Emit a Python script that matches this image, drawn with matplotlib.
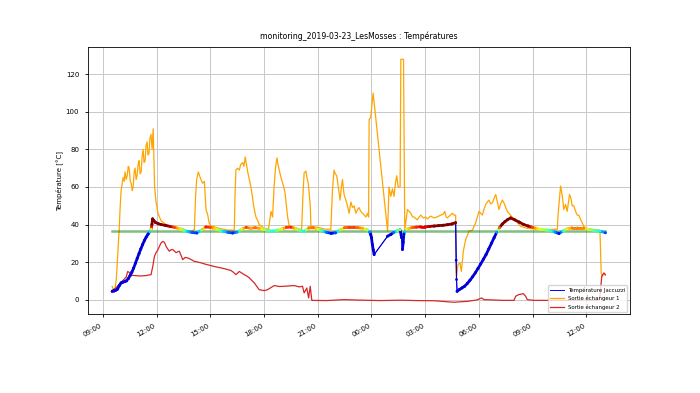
import numpy as np
import pandas as pd
import matplotlib
matplotlib.use("Agg")
import matplotlib.pyplot as plt
import matplotlib.dates as mdates
from matplotlib.collections import LineCollection
from matplotlib.colors import Normalize

# heures depuis le 2019-03-23 00:00
jac_h = [9.52, 9.62, 9.72, 9.82, 9.92, 10.02, 10.12, 10.22, 10.32, 10.42, 10.52, 10.62, 10.72, 10.82,
         10.92, 11.02, 11.12, 11.22, 11.32, 11.42, 11.52, 11.62, 11.70, 11.74, 11.78, 11.85, 11.95,
         12.10, 12.25, 12.50, 12.75, 13.00, 13.25, 13.50, 13.75, 14.00, 14.25, 14.50, 14.75, 15.00,
         15.25, 15.50, 15.75, 16.00, 16.25, 16.50, 16.75, 17.00, 17.25, 17.50, 17.75, 18.00, 18.25,
         18.50, 18.75, 19.00, 19.25, 19.50, 19.75, 20.00, 20.25, 20.50, 20.75, 21.00, 21.25, 21.50,
         21.75, 22.00, 22.25, 22.50, 22.75, 23.00, 23.25, 23.50, 23.75, 23.90, 23.96, 24.00, 24.05,
         24.10, 24.15, 24.90, 25.08, 25.25, 25.45, 25.60, 25.68, 25.73, 25.77, 25.81, 25.95, 26.25,
         26.50, 26.75, 27.00, 27.25, 27.50, 27.75, 28.00, 28.25, 28.50, 28.70, 28.73, 28.75, 28.78,
         28.90, 29.05, 29.20, 29.35, 29.50, 29.65, 29.80, 29.95, 30.10, 30.25, 30.40, 30.55, 30.70,
         30.85, 31.00, 31.15, 31.30, 31.45, 31.60, 31.77, 32.00, 32.25, 32.50, 32.75, 33.00, 33.25,
         33.50, 33.75, 34.00, 34.25, 34.47, 34.70, 34.93, 35.20, 35.50, 35.85, 36.10, 36.40, 36.75,
         37.06]
jac_v = [4.4, 4.6, 5.0, 5.6, 7.5, 8.9, 9.3, 9.6, 10.0, 11.2, 12.8, 14.6, 16.8, 19.4,
         22.0, 24.5, 27.0, 29.3, 31.5, 33.3, 34.8, 36.3, 37.5, 40.0, 43.0, 42.0, 41.0,
         40.4, 40.0, 39.5, 39.0, 38.5, 37.8, 37.0, 36.2, 35.7, 35.5, 37.0, 38.7, 38.5,
         37.8, 37.0, 36.3, 35.8, 35.5, 36.0, 37.5, 38.5, 38.0, 38.3, 38.0, 37.3, 36.8,
         36.5, 37.0, 37.6, 38.5, 38.6, 37.8, 36.8, 36.4, 38.2, 38.3, 37.5, 36.6, 35.8,
         35.3, 35.6, 37.2, 38.3, 38.5, 38.5, 38.3, 38.0, 37.3, 36.0, 34.7, 33.0, 29.3,
         26.5, 24.0, 33.8, 34.7, 35.8, 36.8, 37.2, 33.0, 26.7, 30.5, 35.0, 37.5, 38.3,
         38.6, 38.8, 38.8, 39.0, 39.2, 39.4, 39.6, 39.9, 40.3, 41.0, 21.0, 10.7, 4.4,
         5.3, 6.2, 7.1, 8.6, 10.3, 12.2, 14.3, 16.6, 19.0, 21.5, 24.0, 27.0, 30.0,
         33.0, 36.0, 38.3, 40.2, 41.5, 42.6, 43.5, 42.5, 41.3, 40.0, 39.2, 38.5, 37.8,
         37.4, 37.1, 36.7, 36.0, 35.2, 36.5, 37.7, 38.2, 38.2, 38.2, 37.4, 36.9, 36.5,
         35.6]

ech1_h = [9.52, 9.60, 9.68, 9.76, 9.84, 9.91, 9.97, 10.02, 10.08, 10.13, 10.19, 10.24, 10.30, 10.36,
          10.42, 10.47, 10.53, 10.58, 10.64, 10.69, 10.75, 10.80, 10.86, 10.91, 10.97, 11.02, 11.08,
          11.14, 11.19, 11.25, 11.30, 11.36, 11.41, 11.47, 11.52, 11.58, 11.63, 11.69, 11.75, 11.81,
          11.85, 11.89, 11.97, 12.08, 12.25, 12.53, 12.81, 13.10, 13.37, 13.65, 13.90, 14.11, 14.18,
          14.24, 14.33, 14.40, 14.48, 14.57, 14.67, 14.72, 14.76, 14.86, 14.93, 15.00, 15.30, 15.70,
          16.00, 16.34, 16.38, 16.43, 16.52, 16.62, 16.70, 16.81, 16.88, 16.95, 17.02, 17.09, 17.18,
          17.27, 17.35, 17.42, 17.48, 17.55, 17.65, 17.73, 18.00, 18.25, 18.39, 18.48, 18.56, 18.64,
          18.72, 18.78, 18.85, 18.95, 19.04, 19.10, 19.17, 19.25, 19.32, 19.41, 19.70, 20.00, 20.10,
          20.17, 20.24, 20.34, 20.40, 20.47, 20.53, 20.58, 20.62, 21.00, 21.40, 21.73, 21.82, 21.91,
          21.98, 22.06, 22.15, 22.25, 22.32, 22.38, 22.47, 22.57, 22.66, 22.75, 22.85, 22.94, 23.03,
          23.13, 23.22, 23.31, 23.40, 23.50, 23.60, 23.69, 23.78, 23.84, 23.87, 23.96, 24.09, 24.15,
          24.90, 24.98, 25.08, 25.17, 25.26, 25.34, 25.41, 25.49, 25.60, 25.64, 25.79, 25.86, 26.01,
          26.10, 26.20, 26.30, 26.38, 26.55, 26.75, 26.90, 27.03, 27.13, 27.30, 27.49, 27.65, 27.87,
          28.00, 28.09, 28.17, 28.24, 28.40, 28.52, 28.62, 28.70, 28.74, 28.83, 28.94, 29.02, 29.13,
          29.26, 29.35, 29.45, 29.64, 29.73, 29.82, 29.91, 30.00, 30.10, 30.19, 30.28, 30.38, 30.47,
          30.56, 30.65, 30.75, 30.85, 30.94, 31.03, 31.12, 31.21, 31.31, 31.40, 31.50, 31.59, 31.68,
          31.77, 31.90, 32.05, 32.20, 32.33, 32.70, 33.20, 33.80, 34.38, 34.41, 34.56, 34.66, 34.74,
          34.84, 34.93, 35.06, 35.14, 35.21, 35.30, 35.40, 35.49, 35.58, 35.68, 35.86, 35.96, 36.30,
          36.70, 36.76, 36.83, 36.89, 36.98, 37.06]
ech1_v = [7, 5, 5.5, 12, 25, 37, 50, 58, 62, 65, 63, 68, 64, 66,
          71, 70, 63, 62, 58, 60, 68, 70, 64, 66, 72, 74, 67,
          68, 76, 80, 73, 74, 82, 84, 77, 78, 86, 88, 80, 91,
          75, 60, 52, 46, 42, 40, 39, 38.6, 38.0, 37.0, 36.5, 37.2, 55,
          64, 68, 66, 64, 62, 63, 55, 48, 45, 41, 39.5, 38.5, 37.5,
          37.0, 37.0, 55, 69, 70, 69, 72, 73, 71, 76, 72, 68, 64,
          60, 55, 50, 47, 44, 42, 40, 38.0, 37.5, 47, 44, 60, 70,
          75.5, 72, 69, 65, 62, 60, 57, 50, 44, 39, 38.5, 37.5, 37.2,
          55, 67.5, 68.5, 65, 62, 56, 50, 39, 38.5, 37.5, 37.5, 58, 69,
          67, 66, 60, 53, 60, 64, 56, 53, 50, 46, 52, 49, 50,
          46, 48, 49, 47, 46, 45, 44, 46, 44, 96, 97, 110, 105,
          36.5, 60, 55, 59, 55, 62, 66, 60, 60, 128, 128, 37, 48,
          47, 46, 44, 44, 42.5, 45, 43.5, 44, 43, 44.5, 43.5, 44, 45,
          45.5, 47, 44, 43.5, 45, 46, 45, 45, 10.7, 18.7, 19.5, 15, 25.8,
          32, 34, 36.5, 37, 39, 41, 44, 47, 46, 45, 48, 50.7, 52,
          53, 51, 51.5, 54, 56, 52, 48, 51, 53, 51.5, 49, 47, 46,
          45, 43.5, 42, 40.5, 39, 38, 37.6, 37.3, 37.5, 44, 60.5, 55, 48,
          50.7, 47, 56, 54, 50, 50, 47, 45, 45, 42.7, 39, 38, 37.5,
          37, 36.5, 14, 12.5, 14, 13]

ech2_h = [9.52, 9.70, 9.90, 10.10, 10.30, 10.39, 10.47, 10.58, 10.80, 11.10, 11.40, 11.69, 11.79,
          11.88, 11.97, 12.07, 12.16, 12.25, 12.35, 12.44, 12.53, 12.62, 12.71, 12.80, 12.90, 13.00,
          13.09, 13.18, 13.27, 13.37, 13.46, 13.60, 13.74, 13.90, 14.11, 14.30, 14.48, 14.75, 15.04,
          15.30, 15.60, 15.90, 16.16, 16.30, 16.43, 16.62, 16.75, 16.90, 17.05, 17.18, 17.32, 17.46,
          17.60, 17.73, 18.01, 18.20, 18.40, 18.57, 18.85, 19.13, 19.40, 19.69, 19.95, 20.15, 20.24,
          20.39, 20.49, 20.58, 20.67, 21.50, 22.47, 23.50, 24.50, 25.64, 26.50, 27.50, 28.61, 29.36,
          29.88, 30.15, 30.28, 31.40, 31.96, 32.05, 32.23, 32.40, 32.48, 32.61, 32.70, 33.07, 34.19,
          35.50, 36.68, 36.76, 36.86, 36.98, 37.06]
ech2_v = [5, 6, 8, 10, 12, 15, 14.5, 13, 12.8, 12.6, 12.8, 13.3, 17.8,
          23, 25, 26.5, 28.4, 30.2, 31, 30.5, 28.4, 27, 25.8, 26.5, 26.7, 25.8,
          25, 25.5, 25.8, 23.5, 21.3, 22.5, 22.2, 21.5, 20.4, 20.0, 19.6, 18.8, 18.1,
          17.5, 16.9, 16.2, 15.5, 14.5, 13.3, 15.0, 14.2, 13.3, 12.5, 11.6, 10.2, 8.9,
          7.0, 5.3, 4.8, 5.3, 6.5, 7.5, 7.0, 7.1, 7.3, 7.5, 6.8, 7.1, 3.6,
          6.2, 0.9, 7.1, -0.4, -0.5, 0, -0.3, -0.5, -0.3, -0.5, -0.6, -1.4, -0.9,
          -0.2, 0.9, 0, -0.4, -0.4, 1.8, 2.7, 3.0, 3.2, 1.8, 0, -0.4, -0.4,
          -0.4, -0.3, 1.8, 12.4, 14.2, 13.3]

consigne = 36.8

base = pd.Timestamp("2019-03-23")
def to_time(h):
    return base + pd.to_timedelta(np.array(h), unit="h")

t_jac = to_time(jac_h)
t_e1 = to_time(ech1_h)
t_e2 = to_time(ech2_h)
jac = np.array(jac_v)

fig, ax = plt.subplots(figsize=(7, 3.93), dpi=100)

ax.plot(t_jac, jac, color="b", lw=0.7, label="Température Jaccuzzi", zorder=3)
ax.plot(t_e1, ech1_v, color="orange", lw=0.9, label="Sortie échangeur 1", zorder=2)
ax.plot(t_e2, ech2_v, color="tab:red", lw=0.9, label="Sortie échangeur 2", zorder=2)
ax.plot([t_jac[0], t_jac[-1]], [consigne, consigne], color="green", alpha=0.5, lw=1.8, zorder=2.5)

# bande colorée de la température jacuzzi (jet autour de la consigne, bleu en dessous)
cmap = plt.get_cmap("jet")
norm = Normalize(vmin=34.8, vmax=39.2)
xj = mdates.date2num(t_jac)
pts = np.column_stack([xj, jac])
segs = np.stack([pts[:-1], pts[1:]], axis=1)
mid = (jac[:-1] + jac[1:]) / 2
cols = [cmap(norm(m)) if m >= 35 else (0, 0, 0.85, 1) for m in mid]
jump = (np.diff(jac_h) > 0.5) | (np.abs(np.diff(jac)) > 5)
widths = np.where(jump, 0.7, 2.0)
ax.add_collection(LineCollection(segs, colors=cols, linewidths=widths, zorder=4, capstyle="round"))
pcols = [cmap(norm(v)) if v >= 35 else (0, 0, 0.85, 1) for v in jac]
ax.scatter(t_jac, jac, c=pcols, s=4, linewidths=0, zorder=5)

ax.xaxis.set_major_locator(mdates.HourLocator(byhour=range(0, 24, 3)))
ax.xaxis.set_major_formatter(mdates.DateFormatter("%H:%M"))
ax.set_yticks(range(0, 140, 20))
ax.grid(True, color="#c8c8c8", lw=0.7)
ax.tick_params(labelsize=5, width=0.6, length=2.5)
for s in ax.spines.values():
    s.set_linewidth(0.6)

ax.set_title("monitoring_2019-03-23_LesMosses : Températures", fontsize=5.6)
ax.set_ylabel("Température [°C]", fontsize=5, labelpad=2)
ax.legend(loc="lower right", fontsize=3.9, handlelength=2.5, framealpha=0.8)

fig.autofmt_xdate()
fig.subplots_adjust(left=0.125, right=0.9, top=0.88, bottom=0.2)
fig.savefig("out.png", dpi=100)
